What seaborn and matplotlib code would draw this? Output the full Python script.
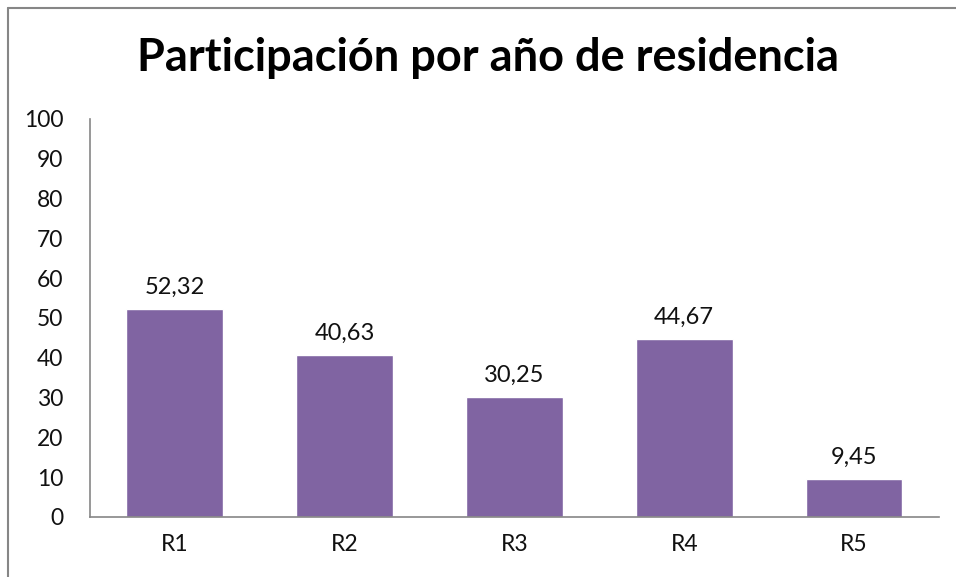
import matplotlib
matplotlib.use('Agg')
import matplotlib.pyplot as plt
import seaborn as sns
import pandas as pd
from matplotlib.lines import Line2D

categorias = ['R1', 'R2', 'R3', 'R4', 'R5']
participacion = [52.32, 40.63, 30.25, 44.67, 9.45]
yticks = [0, 10, 20, 30, 40, 50, 60, 70, 80, 90, 100]

df = pd.DataFrame({'residencia': categorias, 'participacion': participacion})

sns.set_theme(style='white')
plt.rcParams['font.family'] = ['Lato', 'DejaVu Sans']

fig = plt.figure(figsize=(9.56, 5.77), dpi=100, facecolor='white')
ax = fig.add_axes([0.0941, 0.104, 0.888, 0.690])

sns.barplot(data=df, x='residencia', y='participacion', color='#8064A2',
            saturation=1, width=0.57, ax=ax)

for c in ax.containers:
    ax.bar_label(c, labels=[f'{v:.2f}'.replace('.', ',') for v in participacion],
                 padding=8, fontsize=17, color='#111111')

ax.set_ylim(0, 100)
ax.set_yticks(yticks)
ax.set_xlim(-0.5, 4.5)
ax.set_xlabel('')
ax.set_ylabel('')
ax.tick_params(axis='y', length=0, pad=19, labelsize=16.5, labelcolor='#111111')
ax.tick_params(axis='x', length=0, pad=12, labelsize=16.5, labelcolor='#111111')
for s in ['top', 'right']:
    ax.spines[s].set_visible(False)
for s in ['left', 'bottom']:
    ax.spines[s].set_color('#868686')
    ax.spines[s].set_linewidth(1.2)

fig.text(0.51, 0.90, 'Participación por año de residencia', ha='center', va='center',
         fontsize=32.5, fontweight='bold', color='#000000')

# marco del grafico (solo se ven borde superior e izquierdo)
x0 = 7.5 / 956
y0 = 1 - 7.5 / 577
fig.add_artist(Line2D([x0, 1], [y0, y0], transform=fig.transFigure,
                      color='#868686', linewidth=1.5))
fig.add_artist(Line2D([x0, x0], [0, y0], transform=fig.transFigure,
                      color='#868686', linewidth=1.5))

fig.savefig('out.png', dpi=100)
